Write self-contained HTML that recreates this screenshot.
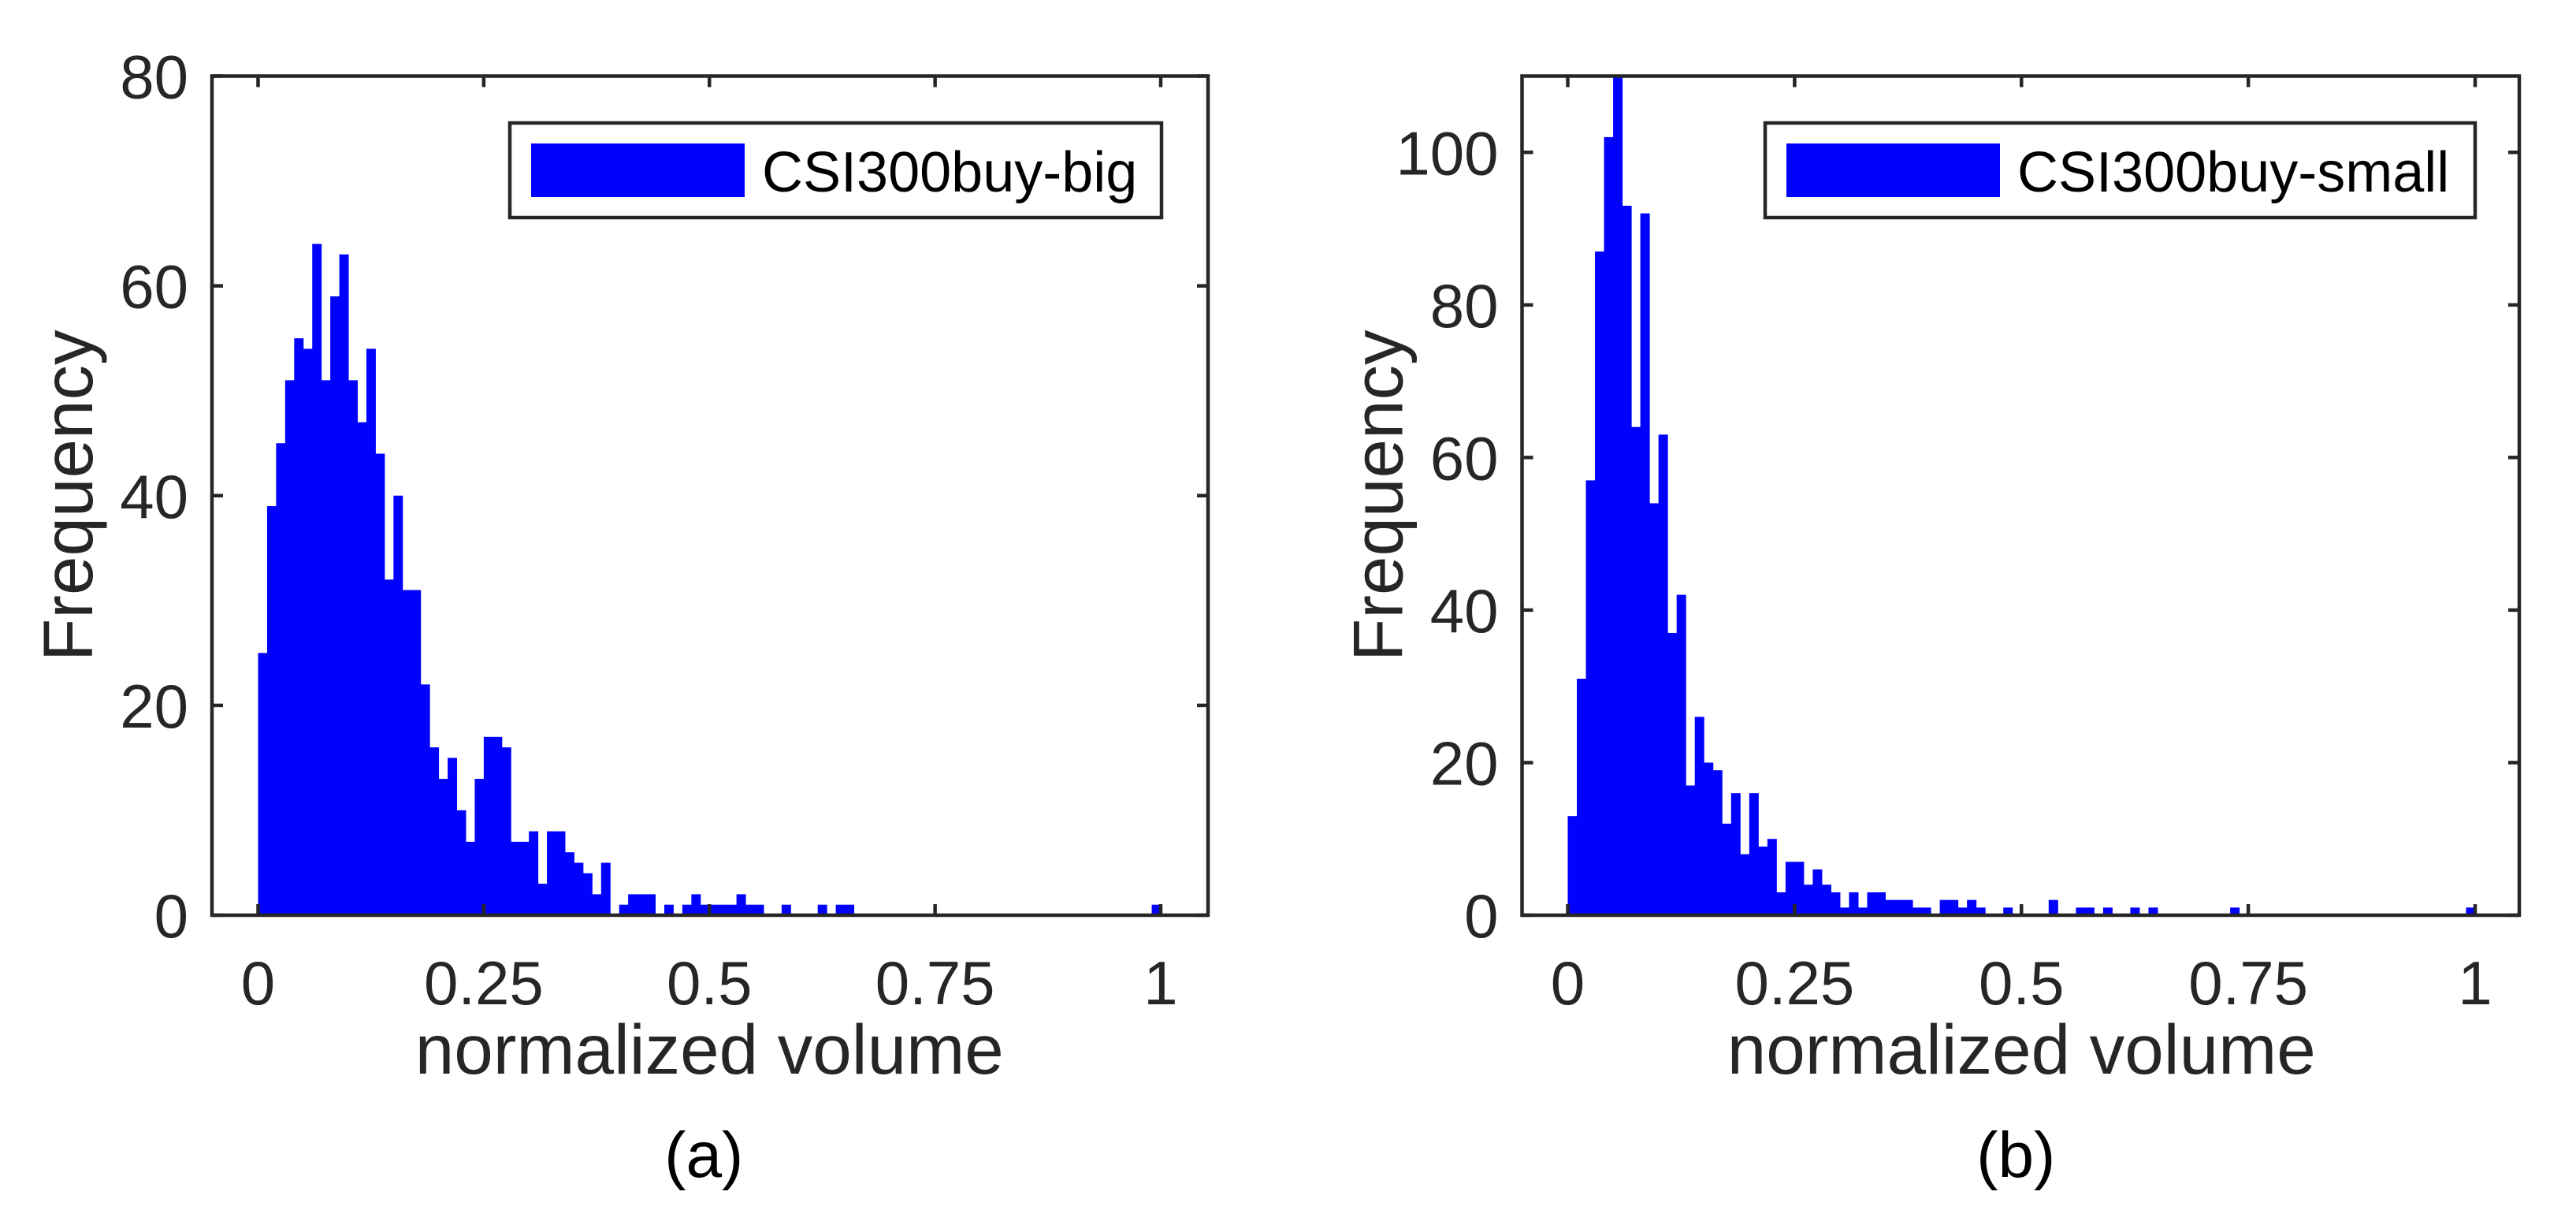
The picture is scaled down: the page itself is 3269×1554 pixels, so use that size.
<!DOCTYPE html>
<html><head><meta charset="utf-8"><style>
html,body{margin:0;padding:0;background:#fff;}
svg{display:block;font-family:"Liberation Sans",Arial,sans-serif;}
</style></head><body>
<svg id="fig" width="3269" height="1554" viewBox="0 0 3269 1554" xmlns="http://www.w3.org/2000/svg">
<rect width="3269" height="1554" fill="#fff"/>
</svg>
<script>
const binsA = [25,39,45,51,55,54,64,51,59,63,51,47,54,44,32,40,31,31,22,16,13,15,10,7,13,17,17,16,7,7,8,3,8,8,6,5,4,2,5,0,1,2,2,2,0,1,0,1,2,1,1,1,1,2,1,1,0,0,1,0,0,0,1,0,1,1,0,0,0,0,0,0,0,0,0,0,0,0,0,0,0,0,0,0,0,0,0,0,0,0,0,0,0,0,0,0,0,0,0,1];
const binsB = [13,31,57,87,102,118,93,64,92,54,63,37,42,17,26,20,19,12,16,8,16,9,10,3,7,7,4,6,4,3,1,3,1,3,3,2,2,2,1,1,0,2,2,1,2,1,0,0,1,0,0,0,0,2,0,0,1,1,0,1,0,0,1,0,1,0,0,0,0,0,0,0,0,1,0,0,0,0,0,0,0,0,0,0,0,0,0,0,0,0,0,0,0,0,0,0,0,0,0,1];
const xTicks = [0,0.25,0.5,0.75,1];
const xTickLabels = ["0","0.25","0.5","0.75","1"];
const yTicksA = [0,20,40,60,80];
const yTicksB = [0,20,40,60,80,100];
const legendA = "CSI300buy-big";
const legendB = "CSI300buy-small";

const NS="http://www.w3.org/2000/svg";
const svg=document.getElementById('fig');
function mk(tag,attrs,parent){const e=document.createElementNS(NS,tag);for(const k in attrs)e.setAttribute(k,attrs[k]);(parent||svg).appendChild(e);return e;}

function panel(p){
  const g=mk('g',{});
  
  
  const top=96.5,bot=1161;
  const xs=v=>p.x0+(p.x1-p.x0)*v;
  const ys=v=>bot-(bot-top)*v/p.ymax;
  const n=p.bins.length, w=1/n;
  const clip=mk('clipPath',{id:'clip'+p.id},g);
  mk('rect',{x:p.fl,y:top,width:p.fr-p.fl,height:bot-top},clip);
  const bars=mk('g',{'clip-path':'url(#clip'+p.id+')'},g);
  p.bins.forEach((v,i)=>{
    if(v<=0)return;
    const r=mk('rect',{x:xs(i*w),y:ys(v),width:xs((i+1)*w)-xs(i*w)+0.5,height:bot-ys(v),fill:'#0000ff'},bars);
    
    
  });
  const st='#262626';
  p.yticks.forEach(t=>{
    const y=ys(t);
    mk('line',{x1:p.fl,x2:p.fl+14,y1:y,y2:y,stroke:st,'stroke-width':4.5},g);
    mk('line',{x1:p.fr,x2:p.fr-14,y1:y,y2:y,stroke:st,'stroke-width':4.5},g);
    const tx=mk('text',{x:p.fl-30,y:y+28,'text-anchor':'end','font-size':78,fill:st},g);
    tx.textContent=t;
    
    
  });
  xTicks.forEach((t,i)=>{
    const x=xs(t);
    mk('line',{x1:x,x2:x,y1:bot,y2:bot-14,stroke:st,'stroke-width':4.5},g);
    mk('line',{x1:x,x2:x,y1:top,y2:top+14,stroke:st,'stroke-width':4.5},g);
    const tx=mk('text',{x:x,y:1274,'text-anchor':'middle','font-size':78,fill:st},g);
    tx.textContent=xTickLabels[i];
    
    
  });
  const fr=mk('rect',{x:p.fl,y:top,width:p.fr-p.fl,height:bot-top,fill:'none',stroke:st,'stroke-width':4.5},g);
  
  
  const xl=mk('text',{x:(p.x0+p.x1)/2,y:1362,'text-anchor':'middle','font-size':89,fill:st},g);
  xl.textContent='normalized volume';
  
  
  const yl=mk('text',{x:0,y:0,'text-anchor':'middle','font-size':89,fill:st,transform:`translate(${p.fl-152},${(top+bot)/2}) rotate(-90)`},g);
  yl.textContent='Frequency';
  
  
  const cap=mk('text',{x:(p.x0+p.x1)/2-7,y:1493,'text-anchor':'middle','font-size':82,fill:'#000'},g);
  cap.textContent=p.caption;
  
  
  const lg=mk('g',{},g);
  
  
  mk('rect',{x:p.lx0,y:156,width:p.lx1-p.lx0,height:120,fill:'#fff',stroke:st,'stroke-width':4.5},lg);
  const sw=mk('rect',{x:p.lx0+27,y:182,width:p.sw,height:68,fill:'#0000ff'},lg);
  
  
  const lt=mk('text',{x:p.lx0+27+p.sw+22,y:243,'font-size':72,fill:'#000'},lg);
  lt.textContent=p.legend;
  
  
}
panel({id:'a',name:'panel-a',bins:binsA,ymax:80,yticks:yTicksA,fl:269,fr:1533,x0:327.5,x1:1473,lx0:647,lx1:1474,sw:271,legend:legendA,caption:'(a)'});
panel({id:'b',name:'panel-b',bins:binsB,ymax:110,yticks:yTicksB,fl:1931.5,fr:3197,x0:1989.5,x1:3141,lx0:2240,lx1:3141,sw:271,legend:legendB,caption:'(b)'});
</script>
</body></html>
